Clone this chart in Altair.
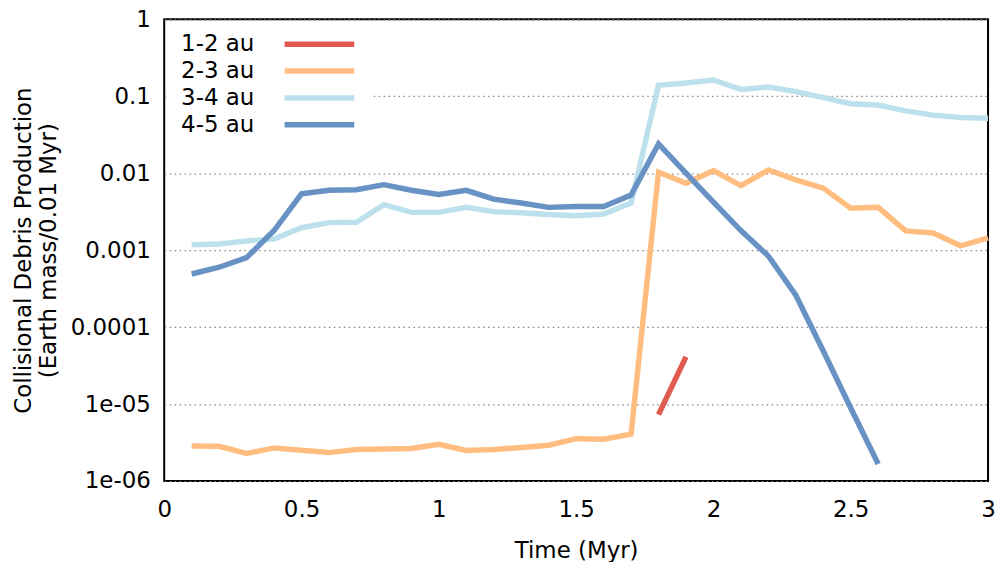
import altair as alt
import pandas as pd

# ---- data ----
times = [0.1, 0.2, 0.3, 0.4, 0.5, 0.6, 0.7, 0.8, 0.9, 1.0,
         1.1, 1.2, 1.3, 1.4, 1.5, 1.6, 1.7, 1.8, 1.9, 2.0,
         2.1, 2.2, 2.3, 2.4, 2.5, 2.6, 2.7, 2.8, 2.9, 3.0]

au12_t = [1.8, 1.9]
au12 = [7.3e-6, 4.1e-5]

au23 = [2.86e-6, 2.83e-6, 2.28e-6, 2.69e-6, 2.51e-6, 2.34e-6, 2.57e-6, 2.61e-6, 2.64e-6, 3.0e-6,
        2.5e-6, 2.57e-6, 2.72e-6, 2.92e-6, 3.55e-6, 3.5e-6, 4.05e-6, 0.0103, 0.0074, 0.0108,
        0.0069, 0.011, 0.0082, 0.0064, 0.0035, 0.0036, 0.00178, 0.00167, 0.00114, 0.00144]

au34 = [1.18e-3, 1.2e-3, 1.32e-3, 1.4e-3, 1.96e-3, 2.28e-3, 2.3e-3, 3.9e-3, 3.1e-3, 3.1e-3,
        3.6e-3, 3.16e-3, 3.06e-3, 2.9e-3, 2.8e-3, 2.95e-3, 4.1e-3, 0.139, 0.149, 0.163,
        0.123, 0.132, 0.115, 0.096, 0.080, 0.077, 0.0646, 0.0569, 0.053, 0.052]

au45 = [4.9e-4, 6.0e-4, 8.0e-4, 1.8e-3, 5.4e-3, 6.0e-3, 6.1e-3, 7.1e-3, 6.0e-3, 5.3e-3,
        6.0e-3, 4.6e-3, 4.1e-3, 3.6e-3, 3.7e-3, 3.7e-3, 5.2e-3, 0.024, 0.010, 4.2e-3,
        1.8e-3, 8.4e-4, 2.6e-4, 4.9e-5, 8.9e-6, 1.66e-6]

series_names = ["1-2 au", "2-3 au", "3-4 au", "4-5 au"]
series_colors = ["#e05a50", "#ffbe80", "#bde1ec", "#6891c4"]

x_ticks = [0, 0.5, 1, 1.5, 2, 2.5, 3]
x_labels = ["0", "0.5", "1", "1.5", "2", "2.5", "3"]
y_decades = [1, 0.1, 0.01, 0.001, 0.0001, 1e-05, 1e-06]
y_labels = ["1", "0.1", "0.01", "0.001", "0.0001", "1e-05", "1e-06"]

# ---- table ----
rows = []
for t, v in zip(au12_t, au12):
    rows.append({"t": t, "v": v, "s": series_names[0]})
for t, v in zip(times, au23):
    rows.append({"t": t, "v": v, "s": series_names[1]})
for t, v in zip(times, au34):
    rows.append({"t": t, "v": v, "s": series_names[2]})
for t, v in zip(times[:len(au45)], au45):
    rows.append({"t": t, "v": v, "s": series_names[3]})
df = pd.DataFrame(rows)

W, H = 828, 464
FONT = "DejaVu Sans"
FS = 23

xscale = alt.Scale(domain=[0, 3], nice=False, zero=False)
yscale = alt.Scale(type="log", domain=[1e-6, 1], nice=False)

xlab_expr = "[" + ",".join("'%s'" % s for s in x_labels) + "][round(datum.value*2)]"
ylab_expr = "[" + ",".join("'%s'" % s for s in y_labels) + "][round(-log(datum.value)/LN10)]"

x_axis = alt.Axis(values=x_ticks, labelExpr=xlab_expr, ticks=False, domain=False,
                  grid=False, title="Time (Myr)", labelFontSize=FS, titleFontSize=FS,
                  labelPadding=18, titlePadding=18, labelColor="black",
                  titleColor="black", titleFontWeight="normal", labelFlush=False,
                  labelFont=FONT, titleFont=FONT)
y_axis = alt.Axis(values=y_decades, labelExpr=ylab_expr, ticks=False, domain=False,
                  grid=True, gridDash=[1.5, 3.5], gridColor="#888", gridWidth=1.2,
                  title=["Collisional Debris Production", "(Earth mass/0.01 Myr)"],
                  labelFontSize=FS, titleFontSize=FS, labelPadding=14, titlePadding=10,
                  labelColor="black", titleColor="black", titleFontWeight="normal",
                  labelFlush=False, labelFont=FONT, titleFont=FONT)

chart = alt.Chart(df).mark_line(strokeWidth=5.5, strokeCap="butt", strokeJoin="miter").encode(
    x=alt.X("t:Q", scale=xscale, axis=x_axis),
    y=alt.Y("v:Q", scale=yscale, axis=y_axis),
    color=alt.Color("s:N", scale=alt.Scale(domain=series_names, range=series_colors),
                    legend=alt.Legend(orient="none", legendX=3, legendY=4, title=None,
                                      symbolType="M-3.5,0H3.5", symbolSize=400,
                                      symbolStrokeWidth=5.5, labelFontSize=FS, labelFont=FONT,
                                      labelColor="black", labelAlign="right",
                                      labelOffset={"expr": "-78.5"},
                                      symbolOffset=132, fillColor="white", padding=8,
                                      rowPadding=2)),
    detail="s:N",
).properties(
    width=W, height=H,
    autosize=alt.AutoSizeParams(type="none"),
    padding={"left": 157, "top": 10, "right": 8, "bottom": 80},
).configure(
    font=FONT,
    view=alt.ViewConfig(stroke="black", strokeWidth=2),
)

chart.save("out.html", embed_options={"renderer": "svg", "actions": False})
